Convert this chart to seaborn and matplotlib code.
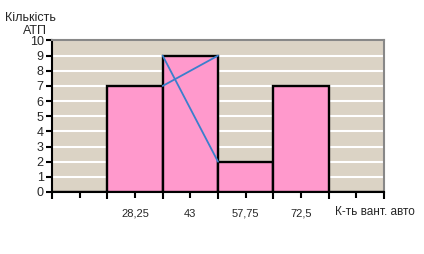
import matplotlib
matplotlib.use("Agg")
import matplotlib.pyplot as plt
import seaborn as sns
import pandas as pd
from matplotlib.ticker import FixedLocator

categories = ["", "28,25", "43", "57,75", "72,5", " "]
counts = [0, 7, 9, 2, 7, 0]
y_ticks = list(range(0, 11))
y_title_lines = ["Кількість", "АТП"]
x_title = "К-ть вант. авто"

sns.set_theme(style="white")
plt.rcParams['font.family'] = ['Liberation Sans', 'DejaVu Sans']

fig = plt.figure(figsize=(4.24, 2.54), dpi=100)
ax = fig.add_axes([52/424, 1-192/254, (384-52)/424, (192-40.5)/254])

df = pd.DataFrame({"cat": categories, "n": counts})
sns.barplot(data=df, x="cat", y="n", color="#ff99cc", saturation=1, width=1.0,
            edgecolor="black", linewidth=1.7, ax=ax, zorder=3)

ax.set_facecolor("#dbd3c5")
ax.set_ylim(0, 10)
ax.set_xlim(-0.5, len(categories) - 0.5)
ax.set_yticks(y_ticks)
ax.yaxis.grid(True, color="white", linewidth=1.5, zorder=0)
ax.set_axisbelow(True)
ax.set_xlabel("")
ax.set_ylabel("")

# mode construction lines
m = counts.index(max(counts))
ax.plot([m - 0.5, m + 0.5], [counts[m - 1], counts[m]], color="#3a7fcc", lw=1.3, zorder=4)
ax.plot([m - 0.5, m + 0.5], [counts[m], counts[m + 1]], color="#3a7fcc", lw=1.3, zorder=4)

ax.set_xticks(range(len(categories)))
ax.set_xticklabels(categories, fontsize=8)
ax.xaxis.set_minor_locator(FixedLocator([i - 0.5 for i in range(len(categories) + 1)]))
ax.tick_params(axis="x", which="major", length=4, width=1.5, color="black", pad=8, direction="out", bottom=True)
ax.tick_params(axis="x", which="minor", length=5, width=1.5, color="black", direction="out", bottom=True)
ax.tick_params(axis="y", which="major", length=4, width=1.5, color="black", labelsize=9, pad=2, direction="out", left=True)

for s in ["left", "bottom"]:
    ax.spines[s].set_color("black")
    ax.spines[s].set_linewidth(1.5)
for s in ["top", "right"]:
    ax.spines[s].set_color("#888888")
    ax.spines[s].set_linewidth(1.5)

fig.text(30/424, 1-18/254, y_title_lines[0], ha="center", va="center", fontsize=9)
fig.text(35/424, 1-30.5/254, y_title_lines[1], ha="center", va="center", fontsize=9)
fig.text(375/424, 1-212/254, x_title, ha="center", va="center", fontsize=8.5)

fig.savefig("out.png", dpi=100, facecolor="white")
